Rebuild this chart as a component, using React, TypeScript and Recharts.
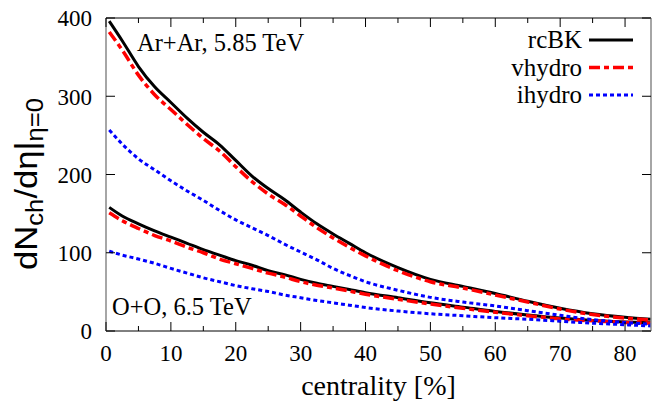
import { LineChart, Line, XAxis, YAxis, Legend } from 'recharts'

// centrality bins [%]
const centrality = [0.5, 2.5, 5, 7.5, 10, 12.5, 15, 17.5, 20, 22.5, 25, 27.5, 30, 32.5, 35, 37.5, 40, 45, 50, 55, 60, 65, 70, 75, 80, 84]

// Ar+Ar, 5.85 TeV
const arRcbk = [396, 371, 338, 312, 292, 272, 254, 238, 218, 198, 182, 168, 152, 137, 124, 112, 100, 81, 66, 57, 48, 38, 29, 22, 17.5, 15]
const arVhydro = [382, 359, 327, 302, 283, 264, 246, 230, 210, 191, 175, 162, 147, 132, 119, 107, 96, 77, 63, 55, 46, 37, 28, 21, 16.5, 14]
const arIhydro = [257, 239, 220, 206, 192, 179, 167, 154, 142, 132, 122, 111, 101, 91, 80, 71, 63, 52, 43, 37, 32, 26, 20, 14.5, 11, 8.5]

// O+O, 6.5 TeV
const ooRcbk = [158, 147, 137, 128, 120, 112, 104, 97, 90, 84, 77, 72, 66, 61, 57, 53, 49, 42.5, 36, 30.5, 25, 20.5, 16.5, 13.5, 11.5, 10.5]
const ooVhydro = [151, 141, 131, 122, 115, 107, 100, 92, 86, 80, 74, 69, 63, 58.5, 55, 51, 47, 40.5, 34.5, 29, 24, 19.5, 15.5, 13, 11, 10]
const ooIhydro = [102, 97, 92, 86.5, 80, 74, 68, 63, 58, 54, 50.5, 46, 42.5, 39, 36, 33, 30, 25.5, 22, 19.5, 17, 15, 12.5, 10, 8, 6.5]

const xTicks = [0, 5, 10, 15, 20, 25, 30, 35, 40, 45, 50, 55, 60, 65, 70, 75, 80]
const yTicks = [0, 100, 200, 300, 400]

const legendNames = ['rcBK', 'vhydro', 'ihydro']

const data = centrality.map((c, i) => ({
  x: c,
  arRcbk: arRcbk[i],
  arVhydro: arVhydro[i],
  arIhydro: arIhydro[i],
  ooRcbk: ooRcbk[i],
  ooVhydro: ooVhydro[i],
  ooIhydro: ooIhydro[i],
}))

const W = 665
const H = 406
const LEFT = 106
const RIGHT = 651
const TOP = 18
const BOTTOM = 331
const X_MAX = 84
const Y_MAX = 400
const SERIF = '"Liberation Serif", "Times New Roman", serif'
const SANS = '"Liberation Sans", Arial, sans-serif'

// frame helpers for the mirrored top/right ticks
const fx = (v: number) => LEFT + (v / X_MAX) * (RIGHT - LEFT)
const fy = (v: number) => BOTTOM - (v / Y_MAX) * (BOTTOM - TOP)

const styles = {
  rcBK: { stroke: '#000000', strokeWidth: 3, dash: undefined as string | undefined },
  vhydro: { stroke: '#ff0000', strokeWidth: 3.5, dash: '11 4 5 4' },
  ihydro: { stroke: '#0000ff', strokeWidth: 3, dash: '4 3' },
}

const BottomTick = (props: any) => {
  const { x, payload } = props
  const major = payload.value % 10 === 0
  return (
    <g>
      <line x1={x} x2={x} y1={BOTTOM} y2={BOTTOM - (major ? 9 : 5)} stroke="#000" strokeWidth={1} />
      {major && (
        <text x={x} y={361} textAnchor="middle" style={{ fontFamily: SERIF, fontSize: 23 }} fill="#000">
          {payload.value}
        </text>
      )}
    </g>
  )
}

const LeftTick = (props: any) => {
  const { y, payload } = props
  return (
    <g>
      <line x1={LEFT} x2={LEFT + 9} y1={y} y2={y} stroke="#000" strokeWidth={1} />
      <text x={92} y={y} dy="0.36em" textAnchor="end" style={{ fontFamily: SERIF, fontSize: 23 }} fill="#000">
        {payload.value}
      </text>
    </g>
  )
}

const LegendBox = () => (
  <svg width={170} height={90}>
    {legendNames.map((n, i) => {
      const s = styles[n as keyof typeof styles]
      const y = 15 + i * 27.5
      return (
        <g key={n}>
          <text x={92} y={y} dy="0.33em" textAnchor="end" style={{ fontFamily: SERIF, fontSize: 25 }} fill="#000">
            {n}
          </text>
          <line x1={99} x2={143} y1={y} y2={y} stroke={s.stroke} strokeWidth={s.strokeWidth} strokeDasharray={s.dash} />
        </g>
      )
    })}
  </svg>
)

export default function App() {
  return (
    <div style={{ position: 'absolute', left: 0, top: 0, width: W, height: H, background: '#fff' }}>
      <LineChart width={W} height={H} data={data} margin={{ top: TOP, right: W - RIGHT, bottom: 45, left: LEFT - 60 }}>
        <XAxis
          dataKey="x"
          type="number"
          domain={[0, X_MAX]}
          ticks={xTicks}
          interval={0}
          height={30}
          axisLine={{ stroke: '#000', strokeWidth: 1 }}
          tickLine={false}
          tick={<BottomTick />}
        />
        <YAxis
          type="number"
          domain={[0, Y_MAX]}
          ticks={yTicks}
          interval={0}
          width={60}
          axisLine={{ stroke: '#888', strokeWidth: 1.5 }}
          tickLine={false}
          tick={<LeftTick />}
        />
        <Line dataKey="arRcbk" name="rcBK" type="monotone" dot={false} stroke={styles.rcBK.stroke} strokeWidth={styles.rcBK.strokeWidth} isAnimationActive={false} />
        <Line dataKey="ooRcbk" name="rcBK" type="monotone" dot={false} stroke={styles.rcBK.stroke} strokeWidth={styles.rcBK.strokeWidth} isAnimationActive={false} legendType="none" />
        <Line dataKey="arVhydro" name="vhydro" type="monotone" dot={false} stroke={styles.vhydro.stroke} strokeWidth={styles.vhydro.strokeWidth} strokeDasharray={styles.vhydro.dash} isAnimationActive={false} />
        <Line dataKey="ooVhydro" name="vhydro" type="monotone" dot={false} stroke={styles.vhydro.stroke} strokeWidth={styles.vhydro.strokeWidth} strokeDasharray={styles.vhydro.dash} isAnimationActive={false} legendType="none" />
        <Line dataKey="arIhydro" name="ihydro" type="monotone" dot={false} stroke={styles.ihydro.stroke} strokeWidth={styles.ihydro.strokeWidth} strokeDasharray={styles.ihydro.dash} isAnimationActive={false} />
        <Line dataKey="ooIhydro" name="ihydro" type="monotone" dot={false} stroke={styles.ihydro.stroke} strokeWidth={styles.ihydro.strokeWidth} strokeDasharray={styles.ihydro.dash} isAnimationActive={false} legendType="none" />
        <Legend
          layout="vertical"
          align="center"
          verticalAlign="middle"
          content={() => <LegendBox />}
          wrapperStyle={{ position: 'absolute', left: 490, top: 25, width: 170, height: 90 }}
        />
      </LineChart>
      <svg width={W} height={H} style={{ position: 'absolute', left: 0, top: 0, pointerEvents: 'none' }}>
        {/* top and right frame with inward mirrored ticks */}
        <line x1={LEFT} x2={RIGHT} y1={TOP} y2={TOP} stroke="#000" strokeWidth={1} />
        <line x1={RIGHT} x2={RIGHT} y1={TOP} y2={BOTTOM} stroke="#888" strokeWidth={1.5} />
        {xTicks.map((v) => (
          <line key={'tx' + v} x1={fx(v)} x2={fx(v)} y1={TOP} y2={TOP + (v % 10 === 0 ? 9 : 5)} stroke="#000" strokeWidth={1} />
        ))}
        {yTicks.map((v) => (
          <line key={'ty' + v} x1={RIGHT} x2={RIGHT - 9} y1={fy(v)} y2={fy(v)} stroke="#000" strokeWidth={1} />
        ))}
        <text x={137} y={51} style={{ fontFamily: SERIF, fontSize: 24.5 }} fill="#000">Ar+Ar, 5.85 TeV</text>
        <text x={112} y={315} style={{ fontFamily: SERIF, fontSize: 24.5 }} fill="#000">O+O, 6.5 TeV</text>
        <text x={378.5} y={395} textAnchor="middle" style={{ fontFamily: SERIF, fontSize: 28 }} fill="#000">centrality [%]</text>
        <text
          transform="translate(37,184) rotate(-90)"
          textAnchor="middle"
          style={{ fontFamily: SANS, fontSize: 31 }}
          fill="#000"
          textLength={172}
          lengthAdjust="spacingAndGlyphs"
        >
          dN<tspan style={{ fontSize: 23 }} dy={6}>ch</tspan>
          <tspan dy={-6}>/dη|</tspan>
          <tspan style={{ fontSize: 23 }} dy={6}>η=0</tspan>
        </text>
      </svg>
    </div>
  )
}
